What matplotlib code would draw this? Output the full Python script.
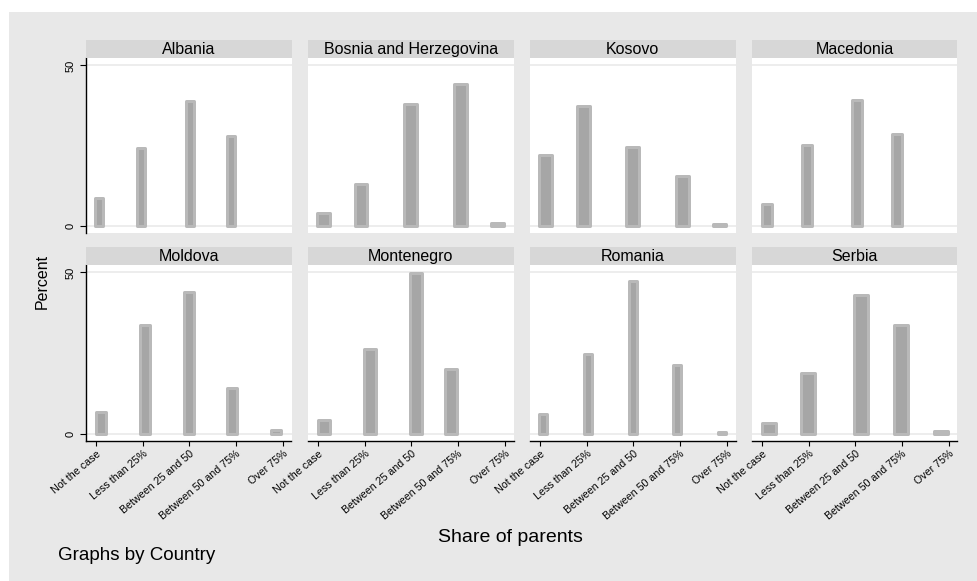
import numpy as np
import matplotlib
matplotlib.use("Agg")
import matplotlib.pyplot as plt
from matplotlib.patches import Rectangle

plt.rcParams['font.family'] = ['Liberation Sans', 'DejaVu Sans']

# categories of the share-of-parents question
categories = ["Not the case", "Less than 25%", "Between 25 and 50",
              "Between 50 and 75%", "Over 75%"]

countries = ["Albania", "Bosnia and Herzegovina", "Kosovo", "Macedonia",
             "Moldova", "Montenegro", "Romania", "Serbia"]

# percent per bin
pct_albania = [8.7, 24.2, 38.9, 28.1]
pct_bosnia = [3.9, 13.1, 38.0, 44.1, 0.9]
pct_kosovo = [22.1, 37.4, 24.5, 15.5, 0.5]
pct_macedonia = [6.8, 25.2, 39.2, 28.7]
pct_moldova = [6.9, 33.8, 43.9, 14.2, 1.1]
pct_montenegro = [4.2, 26.2, 49.7, 20.0]
pct_romania = [6.3, 24.6, 47.3, 21.3, 0.5]
pct_serbia = [3.5, 19.0, 43.1, 33.6, 1.0]

# histogram bin midpoints (category units, 0 = "Not the case")
mid_albania = [0.07, 0.96, 2.02, 2.90]
mid_bosnia = [0.12, 0.92, 1.98, 3.05, 3.85]
mid_kosovo = [0.12, 0.93, 1.98, 3.05, 3.85]
mid_macedonia = [0.10, 0.96, 2.03, 2.89]
mid_moldova = [0.11, 1.05, 1.99, 2.91, 3.86]
mid_montenegro = [0.12, 1.12, 2.11, 2.86]
mid_romania = [0.07, 1.03, 1.99, 2.94, 3.90]
mid_serbia = [0.14, 0.99, 2.13, 2.98, 3.84]

# histogram bin widths (category units)
bin_width = [0.236, 0.336, 0.332, 0.285, 0.289, 0.321, 0.229, 0.364]

pcts = [pct_albania, pct_bosnia, pct_kosovo, pct_macedonia,
        pct_moldova, pct_montenegro, pct_romania, pct_serbia]
mids = [mid_albania, mid_bosnia, mid_kosovo, mid_macedonia,
        mid_moldova, mid_montenegro, mid_romania, mid_serbia]

W, H = 978, 581
fig = plt.figure(figsize=(W / 100, H / 100), dpi=100, facecolor='white')

# stata-like gray graph region
fig.patches.append(Rectangle((9 / W, 0), 1 - 9 / W, 1 - 12 / H,
                             transform=fig.transFigure, facecolor='#e8e8e8',
                             edgecolor='none', zorder=-10))

col_left = [86, 308, 530, 752]
panel_w = 205.5
row_top = [58, 265]
panel_h = [175, 176]
strip_h = 18
px_per_unit = 46.67
edge_px = 3.0

def fig_box(x0, y0, w, h):
    return [x0 / W, 1 - (y0 + h) / H, w / W, h / H]

for i, country in enumerate(countries):
    r, c = divmod(i, 4)
    x0 = col_left[c]
    y0 = row_top[r]
    ax = fig.add_axes(fig_box(x0, y0, panel_w, panel_h[r]))
    ax.set_facecolor('white')

    # strip with country name
    sax = fig.add_axes(fig_box(x0, y0 - strip_h, panel_w, strip_h))
    sax.set_facecolor('#d7d7d7')
    sax.set_xticks([])
    sax.set_yticks([])
    for s in sax.spines.values():
        s.set_visible(False)
    sax.text(0.5, 0.45, country, ha='center', va='center', fontsize=11.5,
             color='black', transform=sax.transAxes)

    for g in [0, 50]:
        ax.axhline(g, color='#ececec', lw=1.3, zorder=0)

    w = bin_width[i] - edge_px / px_per_unit
    ax.bar(mids[i], pcts[i], width=w, color='#a6a6a6', edgecolor='#b9b9b9',
           linewidth=edge_px * 72 / 100, joinstyle='round', zorder=2)

    ax.set_xlim(-10 / px_per_unit, (panel_w - 10) / px_per_unit)
    ax.set_ylim(-2.2, 52.3)

    for s in ['top', 'right']:
        ax.spines[s].set_visible(False)
    ax.spines['left'].set_visible(c == 0)
    ax.spines['bottom'].set_visible(r == 1)
    ax.spines['left'].set_linewidth(1.0)
    ax.spines['bottom'].set_linewidth(1.0)

    if c == 0:
        ax.set_yticks([0, 50])
        ax.set_yticklabels(['0', '50'], rotation=90, va='center', fontsize=8)
        ax.tick_params(axis='y', length=4.3, width=0.8, pad=3)
    else:
        ax.set_yticks([])

    if r == 1:
        ax.set_xticks(np.arange(len(categories)))
        ax.set_xticklabels(categories, rotation=40, ha='right',
                           rotation_mode='anchor', fontsize=7.7)
        ax.tick_params(axis='x', length=3.5, width=0.8, pad=2)
    else:
        ax.set_xticks([])

fig.text(42 / W, 1 - 281 / H, 'Percent', rotation=90, ha='center',
         va='center', fontsize=11.5)
fig.text(510 / W, 1 - 537 / H, 'Share of parents', ha='center',
         va='center', fontsize=14)
fig.text(58 / W, 1 - 555 / H, 'Graphs by Country', ha='left',
         va='center', fontsize=13.5)

fig.savefig('out.png', dpi=100)
